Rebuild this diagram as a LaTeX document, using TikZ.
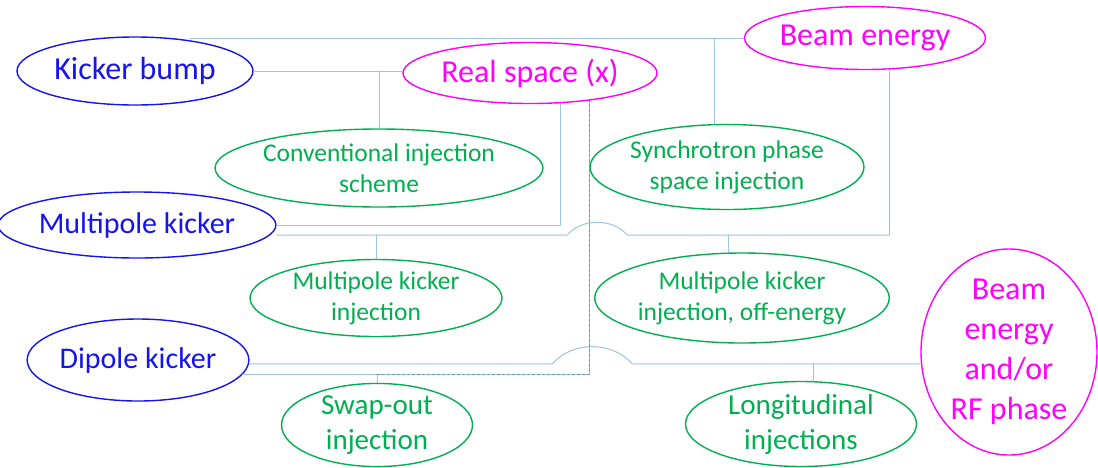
\documentclass[tikz,border=0pt]{standalone}
\usepackage{fontspec}
\setmainfont{Carlito}
\usetikzlibrary{shapes.geometric,calc}
\definecolor{wireblue}{RGB}{157,195,230}
\definecolor{dashblue}{RGB}{91,155,213}
\definecolor{kblue}{RGB}{20,20,235}
\definecolor{kmag}{RGB}{255,0,255}
\definecolor{kgreen}{RGB}{0,176,80}

\begin{document}
\begin{tikzpicture}[x=1pt,y=-1pt,line cap=round,line join=round,
  oval/.style={ellipse,draw,line width=1.4pt,inner sep=0pt,align=center},
  kicker/.style={oval,draw=kblue,text=kblue,font=\fontsize{30}{36}\selectfont},
  param/.style={oval,draw=kmag,text=kmag,font=\fontsize{32}{40}\selectfont},
  scheme/.style={oval,draw=kgreen,text=kgreen,font=\fontsize{25.5}{31}\selectfont},
  bigscheme/.style={scheme,font=\fontsize{29}{35}\selectfont},
  wire/.style={draw=wireblue,line width=1pt},
  link/.style={draw=dashblue,line width=1.4pt,dash pattern=on 3pt off 2pt}]
\useasboundingbox[fill=white] (0,0) rectangle (1098,467);
% kickers
\node[kicker,font=\fontsize{32}{38}\selectfont,minimum width=236pt,minimum height=68pt] (kb) at (135,71) {Kicker bump};
\node[kicker,minimum width=248pt,minimum height=66pt] (mk) at (137,225) {Multipole kicker};
\node[kicker,minimum width=202pt,minimum height=82pt] (dk) at (138,360) {Dipole kicker};
% parameters
\node[param,minimum width=254pt,minimum height=61pt] (rs) at (530,73) {Real space (x)};
\node[param,minimum width=226pt,minimum height=63pt] (be) at (865,38) {Beam energy};
\node[param,minimum width=176pt,minimum height=192pt] (rf) at (1009,352) {Beam\\energy\\and/or\\RF phase};
% injection schemes
\node[scheme,minimum width=266pt,minimum height=78pt] (conv) at (379,168) {Conventional injection\\scheme};
\node[scheme,minimum width=230pt,minimum height=85pt] (sync) at (727,167) {Synchrotron phase\\space injection};
\node[scheme,minimum width=252pt,minimum height=77pt] (mki) at (376,298) {Multipole kicker\\injection};
\node[scheme,minimum width=270pt,minimum height=90pt] (mkoff) at (742,298) {Multipole kicker\\injection, off-energy};
\node[bigscheme,minimum width=191pt,minimum height=80pt] (swap) at (377,425) {Swap-out\\injection};
\node[bigscheme,minimum width=231pt,minimum height=82pt] (longi) at (801,424) {Longitudinal\\injections};
% connectors
\coordinate (topend) at (190,38);
\coordinate (cross) at (rs.-25);
\coordinate (mklow) at ([yshift=-10pt]mk.east);
\draw[wire] (topend) -- (be.west);
\draw[wire] (sync.106) -- (sync.106 |- be.west);
\draw[wire] (kb.east) -- (kb.east -| rs.west);
\draw[wire] (conv.north) -- (conv.north |- kb.east);
\draw[wire] (mk.east) -| (rs.-45);
\draw[wire] (mklow) -- ($(cross |- mklow)+(-22,0)$) .. controls +(15,-17) and +(-15,-17) .. ++(60,0) -| (be.-52);
\draw[wire] (mki.north) -- (mki.north |- mklow);
\draw[wire] (mkoff.106) -- (mkoff.106 |- mklow);
\draw[wire] (dk.-2) -- ($(cross |- dk.-2)+(-37,0)$) .. controls +(20,-23) and +(-20,-23) .. ++(80,0) -- (dk.-2 -| rf.west);
\draw[wire] (longi.74) -- (longi.74 |- dk.-2);
\draw[wire] (dk.-8) -- (swap.north |- dk.-8);
\draw[wire] (swap.north) -- (swap.north |- dk.-8);
\draw[link] (swap.north |- dk.-8) -| (cross);
\end{tikzpicture}
\end{document}
